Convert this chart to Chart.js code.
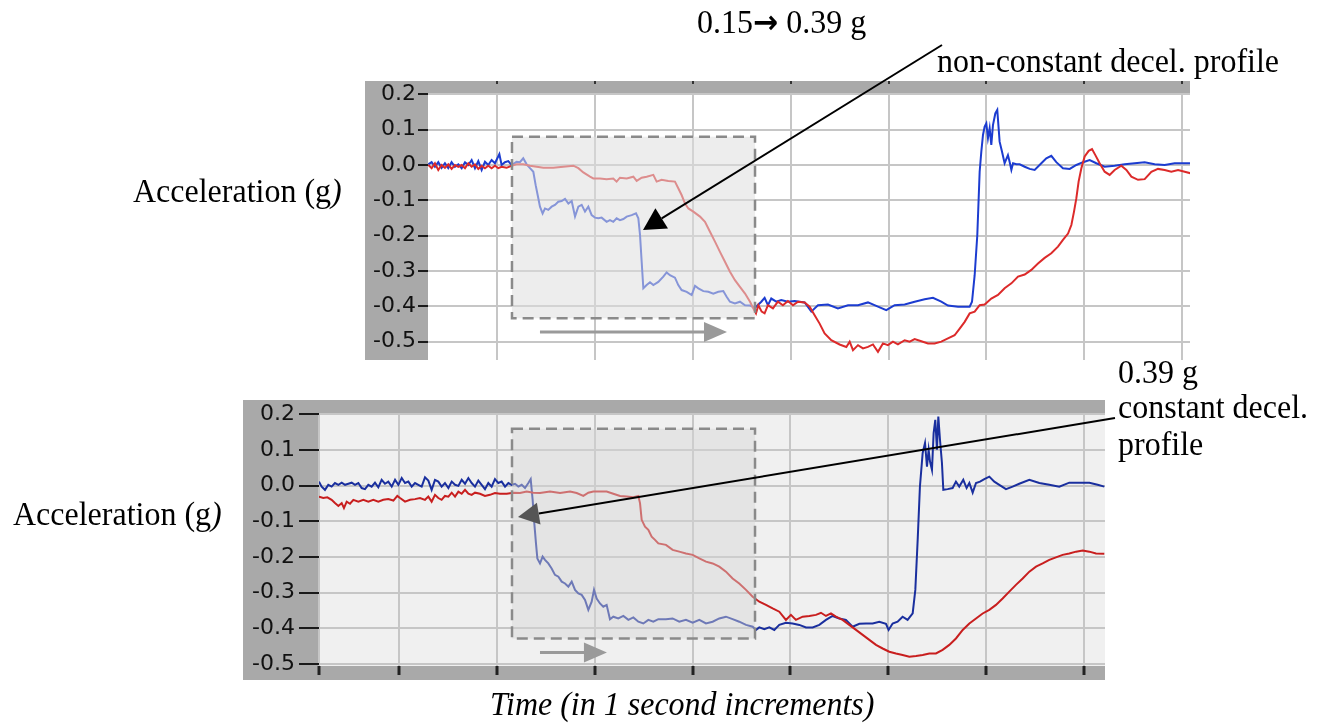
<!DOCTYPE html>
<html>
<head>
<meta charset="utf-8">
<script src="https://cdn.jsdelivr.net/npm/chart.js@4.4.1/dist/chart.umd.min.js"></script>
<style>
  html, body { margin: 0; padding: 0; background: #fff; }
  body { width: 1322px; height: 724px; position: relative; overflow: hidden; }
  canvas { position: absolute; }
  #grafica-arriba { left: 365px; top: 81px; }
  #grafica-abajo { left: 243px; top: 400px; }
  #notas { position: absolute; left: 0; top: 0; }
</style>
</head>
<body>
<canvas id="grafica-arriba" width="825" height="279"></canvas>
<canvas id="grafica-abajo" width="862" height="280"></canvas>
<svg id="notas" width="1322" height="724" font-family="'Liberation Serif', 'Times New Roman', serif" font-size="32" fill="#000">
  <g transform="translate(697,33) scale(1,1.08)"><text>0.15<tspan font-family="'DejaVu Sans'" font-weight="bold" font-size="30">→</tspan> 0.39 g</text></g>
  <g transform="translate(937,72) scale(1,1.08)"><text>non-constant decel. profile</text></g>
  <g transform="translate(133,202) scale(1,1.08)"><text>Acceleration (g<tspan font-style="italic">)</tspan></text></g>
  <g transform="translate(13,525) scale(1,1.08)"><text>Acceleration (g<tspan font-style="italic">)</tspan></text></g>
  <g transform="translate(1118,383) scale(1,1.08)"><text>0.39 g</text></g>
  <g transform="translate(1118,418) scale(1,1.08)"><text>constant decel.</text></g>
  <g transform="translate(1118,455) scale(1,1.08)"><text>profile</text></g>
  <g transform="translate(490,715) scale(1,1.08)"><text font-style="italic">Time (in 1 second increments)</text></g>
</svg>
<script>
// Grafica de arriba (perfil no constante)
const arribaAzulT = [0.298,0.332,0.366,0.400,0.434,0.468,0.502,0.536,0.570,0.605,0.639,0.673,0.707,0.741,0.775,0.809,0.843,0.877,0.911,0.945,
  0.979,1.024,1.047,1.081,1.115,1.149,1.200,1.234,1.268,1.303,1.337,1.371,1.395,1.422,1.439,1.466,1.490,1.524,1.558,1.592,
  1.626,1.660,1.695,1.729,1.763,1.797,1.831,1.865,1.899,1.933,1.967,2.001,2.035,2.069,2.120,2.154,2.188,2.222,2.256,2.291,
  2.325,2.376,2.420,2.444,2.461,2.478,2.495,2.529,2.563,2.597,2.648,2.699,2.733,2.767,2.818,2.852,2.886,2.938,2.989,3.023,
  3.057,3.108,3.159,3.210,3.261,3.312,3.346,3.380,3.431,3.482,3.534,3.585,3.636,
  3.700,3.734,3.768,3.802,3.853,3.904,3.972,4.041,4.143,4.211,4.279,4.381,4.483,4.586,4.688,4.790,4.892,4.977,5.062,5.165,
  5.267,5.369,5.454,5.539,5.607,5.710,5.829,5.853,5.880,5.907,5.931,5.948,5.965,5.982,5.999,6.016,6.033,6.050,6.067,6.091,
  6.111,6.135,6.159,6.186,6.220,6.237,6.255,6.272,6.306,6.340,6.391,6.442,6.493,6.561,6.612,6.663,6.714,6.782,6.851,6.919,
  6.987,7.055,7.123,7.208,7.310,7.413,7.515,7.617,7.719,7.821,7.923,8.094];
const arribaAzulV = [0.002,0.008,-0.005,0.008,-0.008,0.005,-0.009,0.008,-0.005,0.002,-0.009,0.008,0.000,0.014,-0.009,0.011,-0.014,0.009,0.000,0.014,
  0.005,0.031,0.000,0.008,0.011,0.000,0.009,0.008,0.019,0.002,-0.009,-0.019,-0.057,-0.094,-0.118,-0.137,-0.123,-0.127,-0.118,-0.113,
  -0.104,-0.102,-0.096,-0.109,-0.102,-0.146,-0.118,-0.113,-0.132,-0.118,-0.142,-0.149,-0.151,-0.149,-0.161,-0.156,-0.161,-0.151,-0.156,-0.153,
  -0.146,-0.142,-0.137,-0.151,-0.198,-0.274,-0.349,-0.340,-0.332,-0.340,-0.331,-0.316,-0.304,-0.312,-0.319,-0.340,-0.354,-0.359,-0.368,-0.342,
  -0.349,-0.357,-0.359,-0.364,-0.359,-0.357,-0.373,-0.387,-0.392,-0.387,-0.397,-0.398,-0.404,
  -0.387,-0.376,-0.397,-0.378,-0.387,-0.382,-0.387,-0.385,-0.389,-0.415,-0.397,-0.395,-0.406,-0.397,-0.397,-0.389,-0.401,-0.411,-0.397,-0.395,
  -0.387,-0.380,-0.376,-0.387,-0.398,-0.401,-0.401,-0.387,-0.312,-0.198,-0.019,0.038,0.085,0.109,0.118,0.076,0.104,0.057,0.113,0.146,
  0.156,0.066,0.038,0.005,0.028,0.009,-0.014,0.005,0.002,0.002,-0.005,-0.011,-0.014,0.005,0.019,0.026,0.008,-0.009,-0.011,0.000,
  0.008,0.014,0.005,-0.005,-0.002,0.002,0.005,0.008,0.002,0.000,0.005,0.005];
const arribaRojoT = [0.298,0.332,0.366,0.400,0.434,0.468,0.502,0.536,0.570,0.605,0.639,0.673,0.707,0.741,0.775,0.809,0.843,0.877,0.911,0.945,
  0.979,1.013,1.047,1.098,1.149,1.200,1.268,1.337,1.405,1.473,1.575,1.677,1.780,1.831,1.882,1.950,1.984,2.052,2.120,2.188,
  2.222,2.256,2.325,2.393,2.427,2.478,2.529,2.597,2.631,2.682,2.750,2.818,2.852,2.886,2.921,2.955,3.006,3.074,3.125,3.176,
  3.227,3.278,3.329,3.380,3.431,3.482,3.534,3.585,3.619,3.646,3.670,3.704,
  3.734,3.768,3.819,3.870,3.921,3.972,4.024,4.075,4.143,4.194,4.245,4.296,4.347,4.415,4.500,4.569,4.603,4.637,4.688,4.739,
  4.790,4.841,4.892,4.943,4.994,5.045,5.096,5.165,5.216,5.267,5.335,5.403,5.471,5.539,5.607,5.675,5.727,5.778,5.829,5.880,
  5.931,5.982,6.050,6.118,6.186,6.255,6.323,6.391,6.459,6.527,6.595,6.663,6.731,6.782,6.834,6.868,6.895,6.919,6.942,6.970,
  7.004,7.045,7.079,7.113,7.157,7.208,7.259,7.310,7.378,7.430,7.481,7.549,7.617,7.685,7.753,7.821,7.889,7.958,8.026,8.094];
const arribaRojoV = [0.000,-0.009,0.005,-0.014,0.000,-0.008,0.002,-0.011,0.000,-0.005,0.000,-0.009,0.005,-0.005,0.002,-0.011,-0.002,-0.009,-0.002,-0.009,
  -0.002,-0.009,-0.005,-0.008,-0.002,0.002,0.002,-0.002,-0.005,-0.008,-0.008,-0.005,-0.002,-0.009,-0.021,-0.033,-0.038,-0.038,-0.040,-0.038,
  -0.047,-0.036,-0.038,-0.033,-0.045,-0.036,-0.033,-0.028,-0.047,-0.042,-0.045,-0.047,-0.066,-0.085,-0.109,-0.123,-0.132,-0.146,-0.161,-0.189,
  -0.217,-0.246,-0.274,-0.302,-0.326,-0.345,-0.364,-0.387,-0.406,-0.420,-0.397,-0.415,
  -0.420,-0.397,-0.406,-0.387,-0.397,-0.385,-0.397,-0.387,-0.389,-0.401,-0.425,-0.449,-0.477,-0.496,-0.508,-0.515,-0.500,-0.524,-0.510,-0.519,
  -0.515,-0.508,-0.529,-0.505,-0.510,-0.500,-0.508,-0.496,-0.500,-0.493,-0.499,-0.505,-0.505,-0.500,-0.491,-0.482,-0.463,-0.444,-0.420,-0.415,
  -0.397,-0.395,-0.378,-0.368,-0.349,-0.335,-0.316,-0.310,-0.297,-0.279,-0.263,-0.250,-0.231,-0.212,-0.194,-0.170,-0.132,-0.094,-0.047,-0.009,
  0.024,0.040,0.045,0.028,0.005,-0.019,-0.028,-0.014,-0.002,-0.014,-0.033,-0.042,-0.040,-0.019,-0.011,-0.014,-0.019,-0.014,-0.019,-0.024];

// Grafica de abajo (perfil constante)
const abajoAzulT = [0.183,0.210,0.244,0.278,0.312,0.346,0.381,0.415,0.449,0.483,0.517,0.551,0.585,0.619,0.653,0.687,0.721,0.755,0.789,0.823,
  0.857,0.891,0.926,0.960,0.994,1.028,1.062,1.096,1.130,1.164,1.198,1.232,1.266,1.300,1.334,1.368,1.402,1.436,1.470,1.505,
  1.539,1.573,1.607,1.641,1.675,1.709,1.743,1.777,1.811,1.845,1.879,1.913,1.947,1.981,2.015,2.049,2.084,2.118,2.152,2.186,
  2.220,2.254,2.288,2.322,2.346,2.366,2.383,2.400,2.414,2.441,2.468,2.492,2.526,2.560,2.594,2.629,2.663,2.697,2.731,2.765,
  2.799,2.833,2.867,2.901,2.935,2.969,2.993,3.020,3.054,3.088,3.122,3.156,3.190,3.241,3.293,3.344,3.395,3.446,3.497,3.548,
  3.599,3.650,
  3.728,3.796,3.864,3.932,4.001,4.069,4.137,4.205,4.273,4.341,4.409,4.477,4.546,4.614,4.648,4.682,4.733,4.784,4.835,4.886,
  4.954,5.022,5.091,5.159,5.227,5.295,5.363,5.431,5.499,5.567,5.635,5.704,5.772,5.840,5.908,5.976,6.003,6.044,6.095,6.146,
  6.197,6.249,6.276,6.300,6.323,6.351,6.375,6.395,6.412,6.426,6.446,6.463,6.480,6.497,6.511,6.528,6.548,6.562,6.606,6.657,
  6.691,6.725,6.766,6.800,6.828,6.862,6.896,6.937,6.981,7.032,7.083,7.134,7.202,7.270,7.338,7.441,7.543,7.645,7.747,7.849,
  7.952,8.054,8.139,8.207];
const abajoAzulV = [0.011,-0.003,-0.012,0.002,-0.003,0.007,0.002,0.008,0.002,0.005,0.008,0.002,0.007,-0.007,-0.010,0.002,-0.003,0.008,-0.005,0.016,
  0.005,0.011,-0.003,0.016,0.002,0.021,0.007,0.011,-0.003,0.007,0.002,-0.003,0.023,0.014,-0.012,0.016,0.011,-0.003,0.007,-0.007,
  0.011,0.002,-0.001,0.016,0.005,0.021,0.007,-0.003,0.014,0.002,-0.010,0.007,-0.003,0.018,0.007,0.011,-0.003,0.007,0.002,0.005,
  -0.003,0.002,-0.007,0.007,0.018,-0.040,-0.106,-0.162,-0.204,-0.218,-0.199,-0.208,-0.218,-0.232,-0.250,-0.255,-0.269,-0.274,-0.283,-0.269,
  -0.292,-0.302,-0.306,-0.320,-0.348,-0.325,-0.292,-0.316,-0.330,-0.339,-0.334,-0.374,-0.367,-0.372,-0.365,-0.376,-0.369,-0.381,-0.386,-0.376,
  -0.381,-0.374,
  -0.374,-0.372,-0.381,-0.376,-0.384,-0.376,-0.386,-0.381,-0.372,-0.367,-0.374,-0.381,-0.390,-0.395,-0.404,-0.397,-0.402,-0.397,-0.404,-0.390,
  -0.384,-0.386,-0.390,-0.397,-0.397,-0.390,-0.376,-0.365,-0.372,-0.376,-0.395,-0.387,-0.386,-0.386,-0.381,-0.387,-0.404,-0.386,-0.381,-0.367,
  -0.376,-0.358,-0.292,-0.152,-0.003,0.091,0.119,0.053,0.100,0.067,0.044,0.147,0.184,0.100,0.193,0.128,0.063,-0.012,-0.010,-0.007,
  0.011,-0.003,0.016,-0.007,0.007,-0.020,0.007,0.011,0.018,0.025,0.011,0.002,-0.010,-0.003,0.005,0.016,0.007,0.002,-0.003,0.008,
  0.008,0.008,0.002,-0.003];
const abajoRojoT = [0.183,0.227,0.268,0.312,0.346,0.381,0.415,0.438,0.466,0.500,0.534,0.585,0.636,0.687,0.738,0.789,0.840,0.891,0.943,0.983,
  1.011,1.062,1.113,1.164,1.215,1.266,1.300,1.334,1.368,1.402,1.436,1.470,1.505,1.539,1.573,1.607,1.641,1.675,1.709,1.743,
  1.777,1.828,1.879,1.930,1.981,2.032,2.101,2.169,2.237,2.305,2.373,2.441,2.543,2.646,2.748,2.816,2.884,2.935,2.986,3.054,
  3.122,3.190,3.259,3.327,3.395,3.446,3.463,3.480,3.514,3.548,3.582,3.616,3.650,
  3.728,3.796,3.864,3.932,4.001,4.069,4.137,4.205,4.273,4.341,4.409,4.477,4.546,4.614,4.682,4.750,4.818,4.886,4.954,5.005,
  5.056,5.125,5.193,5.261,5.312,5.363,5.414,5.465,5.533,5.601,5.670,5.738,5.806,5.874,5.942,6.010,6.078,6.146,6.215,6.283,
  6.351,6.419,6.487,6.555,6.623,6.691,6.760,6.828,6.896,6.964,7.032,7.100,7.168,7.236,7.304,7.373,7.441,7.509,7.577,7.645,
  7.713,7.781,7.849,7.918,7.986,8.054,8.122,8.207];
const abajoRojoV = [-0.031,-0.035,-0.033,-0.040,-0.049,-0.057,-0.049,-0.063,-0.045,-0.051,-0.040,-0.045,-0.040,-0.045,-0.040,-0.045,-0.040,-0.038,-0.042,-0.029,
  -0.035,-0.045,-0.040,-0.038,-0.035,-0.040,-0.031,-0.045,-0.026,-0.035,-0.040,-0.029,-0.031,-0.020,-0.031,-0.017,-0.023,-0.012,-0.023,-0.026,
  -0.020,-0.023,-0.029,-0.026,-0.021,-0.023,-0.023,-0.020,-0.021,-0.017,-0.020,-0.021,-0.017,-0.021,-0.017,-0.021,-0.029,-0.020,-0.017,-0.017,
  -0.017,-0.023,-0.029,-0.031,-0.033,-0.029,-0.049,-0.096,-0.115,-0.124,-0.143,-0.152,-0.162,
  -0.166,-0.180,-0.185,-0.190,-0.194,-0.204,-0.213,-0.218,-0.227,-0.241,-0.260,-0.274,-0.292,-0.311,-0.325,-0.334,-0.344,-0.353,-0.376,-0.362,
  -0.376,-0.367,-0.365,-0.362,-0.356,-0.365,-0.358,-0.367,-0.376,-0.390,-0.404,-0.418,-0.432,-0.446,-0.456,-0.465,-0.470,-0.474,-0.479,-0.477,
  -0.474,-0.470,-0.470,-0.460,-0.446,-0.428,-0.404,-0.386,-0.372,-0.358,-0.348,-0.334,-0.316,-0.297,-0.278,-0.260,-0.241,-0.227,-0.218,-0.208,
  -0.201,-0.194,-0.190,-0.185,-0.182,-0.185,-0.190,-0.191];

// Rango de ejes (segundos / g)
const arribaX = [0.295, 8.08];
const arribaY = [-0.552, 0.201];
const abajoX = [0.183, 8.214];
const abajoY = [-0.505, 0.203];

// Recuadro punteado [t0, t1, gArriba, gAbajo] y flecha gris [t0, t1, g]
const arribaCaja = [1.153, 3.636, 0.080, -0.434];
const arribaFlecha = [1.439, 3.350, -0.473];
const abajoCaja = [2.155, 4.638, 0.159, -0.428];
const abajoFlecha = [2.441, 3.125, -0.467];

function puntos(ts, vs) {
    return ts.map((t, i) => ({ x: t, y: vs[i] }));
}

function etiqueta(v) {
    if (Math.abs(v) < 1e-9) return '0.0';
    return v.toFixed(1);
}

// Fondo gris del marco y area blanca/gris claro
const fondoPlugin = {
    id: 'fondo',
    beforeDraw(chart, args, opts) {
        const { ctx, chartArea: a } = chart;
        ctx.save();
        ctx.fillStyle = '#a9a9a9';
        ctx.fillRect(0, 0, chart.width, chart.height);
        ctx.fillStyle = opts.color;
        ctx.fillRect(a.left, a.top, a.right - a.left, a.bottom - a.top);
        ctx.restore();
    },
    afterDraw(chart, args, opts) {
        if (!opts.marcasArriba) return;
        const { ctx } = chart;
        const x = chart.scales.x;
        ctx.save();
        ctx.fillStyle = '#333';
        x.ticks.forEach(t => {
            ctx.fillRect(Math.round(x.getPixelForValue(t.value)) - 1, 0, 2, 3);
        });
        ctx.restore();
    }
};

// Recuadro punteado semitransparente y flecha gris
const recuadroPlugin = {
    id: 'recuadro',
    afterDatasetsDraw(chart, args, o) {
        const { ctx } = chart;
        const x = chart.scales.x, y = chart.scales.y;
        const x0 = x.getPixelForValue(o.caja[0]), x1 = x.getPixelForValue(o.caja[1]);
        const y0 = y.getPixelForValue(o.caja[2]), y1 = y.getPixelForValue(o.caja[3]);
        ctx.save();
        ctx.fillStyle = o.relleno;
        ctx.fillRect(x0, y0, x1 - x0, y1 - y0);
        ctx.setLineDash([11, 6]);
        ctx.lineWidth = 2.5;
        ctx.strokeStyle = '#8a8a8a';
        ctx.strokeRect(x0, y0, x1 - x0, y1 - y0);

        ctx.setLineDash([]);
        const fy = y.getPixelForValue(o.flecha[2]);
        const fx0 = x.getPixelForValue(o.flecha[0]);
        const fx1 = x.getPixelForValue(o.flecha[1]);
        ctx.strokeStyle = '#9a9a9a';
        ctx.fillStyle = '#9a9a9a';
        ctx.lineWidth = 3;
        ctx.beginPath();
        ctx.moveTo(fx0, fy);
        ctx.lineTo(fx1 - 20, fy);
        ctx.stroke();
        ctx.beginPath();
        ctx.moveTo(fx1, fy);
        ctx.lineTo(fx1 - 23, fy - 10);
        ctx.lineTo(fx1 - 23, fy + 10);
        ctx.closePath();
        ctx.fill();
        ctx.restore();
    }
};

function crearGrafica(id, c) {
    const ctx = document.getElementById(id).getContext('2d');
    return new Chart(ctx, {
        type: 'line',
        data: {
            datasets: [
                {
                    label: 'Rojo',
                    data: puntos(c.rojoT, c.rojoV),
                    borderColor: c.rojo,
                    borderWidth: 2,
                    pointRadius: 0,
                    tension: 0
                },
                {
                    label: 'Azul',
                    data: puntos(c.azulT, c.azulV),
                    borderColor: c.azul,
                    borderWidth: 2,
                    pointRadius: 0,
                    tension: 0
                }
            ]
        },
        options: {
            responsive: false,
            animation: false,
            events: [],
            layout: { padding: { top: c.padTop, left: 0, right: 0, bottom: 0 } },
            plugins: {
                legend: { display: false },
                tooltip: { enabled: false },
                fondo: { color: c.fondo, marcasArriba: c.marcasArriba },
                recuadro: { caja: c.caja, flecha: c.flecha, relleno: c.relleno }
            },
            scales: {
                x: {
                    type: 'linear',
                    min: c.rangoX[0],
                    max: c.rangoX[1],
                    ticks: { display: false, stepSize: 1, includeBounds: false },
                    grid: {
                        color: '#c6c6c6',
                        lineWidth: 2,
                        drawTicks: c.altoX > 0,
                        tickLength: 9,
                        tickWidth: 3,
                        tickColor: '#222'
                    },
                    border: { display: false },
                    afterBuildTicks: function(axis) {
                        if (c.marcaInicio) axis.ticks.unshift({ value: axis.min });
                    },
                    afterFit: function(axis) {
                        axis.height = c.altoX;
                        axis.paddingLeft = 0;
                        axis.paddingRight = 0;
                    }
                },
                y: {
                    min: c.rangoY[0],
                    max: c.rangoY[1],
                    ticks: {
                        stepSize: 0.1,
                        includeBounds: false,
                        padding: c.sepEtiqueta,
                        color: '#111',
                        font: { family: 'DejaVu Sans', size: 22 },
                        callback: etiqueta
                    },
                    grid: {
                        color: '#c6c6c6',
                        lineWidth: 2,
                        tickLength: c.largoMarca,
                        tickWidth: 2,
                        tickColor: '#1a1a1a'
                    },
                    border: { display: false },
                    afterFit: function(axis) {
                        axis.width = c.anchoY;
                        axis.paddingTop = 0;
                        axis.paddingBottom = 0;
                    }
                }
            }
        },
        plugins: [fondoPlugin, recuadroPlugin]
    });
}

crearGrafica('grafica-arriba', {
    azulT: arribaAzulT, azulV: arribaAzulV, rojoT: arribaRojoT, rojoV: arribaRojoV,
    azul: '#1c3cd0', rojo: '#dc2a2a',
    rangoX: arribaX, rangoY: arribaY,
    caja: arribaCaja, flecha: arribaFlecha, relleno: 'rgba(222,222,222,0.55)',
    fondo: '#ffffff', padTop: 13, altoX: 0, anchoY: 63, largoMarca: 10, sepEtiqueta: 2,
    marcasArriba: true, marcaInicio: false
});

crearGrafica('grafica-abajo', {
    azulT: abajoAzulT, azulV: abajoAzulV, rojoT: abajoRojoT, rojoV: abajoRojoV,
    azul: '#1a2f9e', rojo: '#c81e1e',
    rangoX: abajoX, rangoY: abajoY,
    caja: abajoCaja, flecha: abajoFlecha, relleno: 'rgba(212,212,212,0.45)',
    fondo: '#f0f0f0', padTop: 13, altoX: 14, anchoY: 76, largoMarca: 20, sepEtiqueta: 4,
    marcasArriba: false, marcaInicio: true
});

// Flechas negras de las notas
function flecha(x1, y1, x2, y2, largo, medio, colorPunta) {
    const svg = document.getElementById('notas');
    const ns = 'http://www.w3.org/2000/svg';
    const dx = x2 - x1, dy = y2 - y1;
    const d = Math.sqrt(dx * dx + dy * dy);
    const ux = dx / d, uy = dy / d;
    const bx = x2 - ux * largo, by = y2 - uy * largo;
    const linea = document.createElementNS(ns, 'line');
    linea.setAttribute('x1', x1);
    linea.setAttribute('y1', y1);
    linea.setAttribute('x2', bx);
    linea.setAttribute('y2', by);
    linea.setAttribute('stroke', '#000');
    linea.setAttribute('stroke-width', 2);
    svg.appendChild(linea);
    const punta = document.createElementNS(ns, 'polygon');
    const p = [
        [x2, y2],
        [bx - uy * medio, by + ux * medio],
        [bx + uy * medio, by - ux * medio]
    ];
    punta.setAttribute('points', p.map(q => q[0].toFixed(1) + ',' + q[1].toFixed(1)).join(' '));
    punta.setAttribute('fill', colorPunta);
    svg.appendChild(punta);
}

flecha(942, 45, 643, 230, 22, 12, '#000');
flecha(1115, 418, 518, 517, 21, 11, '#555');
</script>
</body>
</html>
